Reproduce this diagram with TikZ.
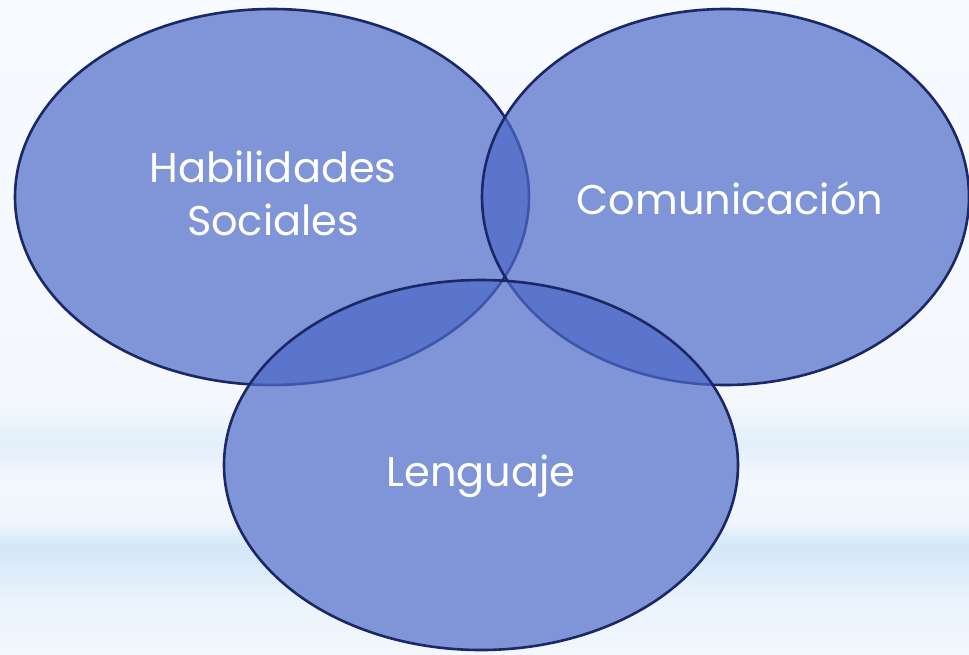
\documentclass[tikz,border=0pt]{standalone}
\usepackage{fontspec}
\setmainfont{Poppins}
\usetikzlibrary{shapes.geometric}
\definecolor{bgA}{HTML}{F7FAFE}
\definecolor{bgB}{HTML}{F4F8FD}
\definecolor{bgC}{HTML}{E3EFFA}
\definecolor{bgD}{HTML}{F3F8FD}
\definecolor{bgE}{HTML}{EEF5FC}
\definecolor{bgF}{HTML}{D3E7F8}
\definecolor{bgG}{HTML}{EAF3FC}
\definecolor{bgH}{HTML}{F2F7FD}
\definecolor{vennfill}{RGB}{78,105,200}
\definecolor{vennline}{HTML}{1C2766}
\tikzset{
  vennset/.style={fill=vennfill, fill opacity=0.7, draw=vennline, line width=2.6pt},
  underlay/.style={fill=bgA},
  label/.style={text=white, font=\fontsize{41.5}{53}\selectfont, align=center, inner sep=0pt}
}
\begin{document}
\begin{tikzpicture}[x=1pt,y=-1pt]
\useasboundingbox (0,0) rectangle (969,654);
% background
\shade[top color=bgA, bottom color=bgB] (0,0) rectangle (969,400);
\shade[top color=bgB, bottom color=bgC] (0,400) rectangle (969,445);
\shade[top color=bgC, bottom color=bgD] (0,445) rectangle (969,480);
\shade[top color=bgD, bottom color=bgE] (0,480) rectangle (969,522);
\shade[top color=bgE, bottom color=bgF] (0,522) rectangle (969,548);
\shade[top color=bgF, bottom color=bgG] (0,548) rectangle (969,600);
\shade[top color=bgG, bottom color=bgH] (0,600) rectangle (969,654);
% opaque underlay so the bands do not show through the sets
\fill[underlay] (272,197) ellipse [x radius=257, y radius=188];
\fill[underlay] (725.5,197) ellipse [x radius=243.5, y radius=188];
\fill[underlay] (481,465) ellipse [x radius=257, y radius=185];
% sets
\draw[vennset] (272,197) ellipse [x radius=257, y radius=188];
\draw[vennset] (725.5,197) ellipse [x radius=243.5, y radius=188];
\draw[vennset] (481,465) ellipse [x radius=257, y radius=185];
% labels
\node[label] (hab) at (273,193) {Habilidades\\Sociales};
\node[label, anchor=base] (com) at (730,214) {Comunicación};
\node[label, anchor=base] (len) at (481,486) {Lenguaje};
\end{tikzpicture}
\end{document}
